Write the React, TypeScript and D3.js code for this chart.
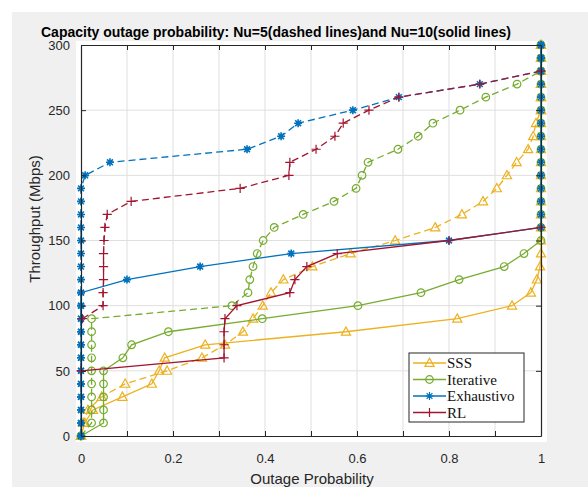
import React, { useRef, useEffect } from 'react';
import * as d3 from 'd3';

// throughput levels (Mbps) at which each curve has a marker
const levels = [0, 10, 20, 30, 40, 50, 60, 70, 80, 90, 100, 110, 120, 130, 140, 150, 160, 170, 180, 190, 200, 210, 220, 230, 240, 250, 260, 270, 280, 290, 300];

// outage probability for each level
const sssDashed = [0, 0.005, 0.015, 0.045, 0.096, 0.187, 0.263, 0.313, 0.352, 0.374, 0.395, 0.413, 0.44, 0.503, 0.586, 0.683, 0.77, 0.828, 0.874, 0.904, 0.926, 0.947, 0.972, 0.983, 0.989, 1, 1, 1, 1, 1, 1];
const sssSolid = [0, 0.008, 0.026, 0.09, 0.154, 0.17, 0.182, 0.27, 0.576, 0.818, 0.937, 0.978, 0.991, 0.998, 1, 1, 1, 1, 1, 1, 1, 1, 1, 1, 1, 1, 1, 1, 1, 1, 1];
const iterDashed = [0, 0.023, 0.023, 0.023, 0.023, 0.023, 0.023, 0.023, 0.023, 0.023, 0.328, 0.363, 0.367, 0.374, 0.383, 0.396, 0.42, 0.483, 0.55, 0.598, 0.611, 0.624, 0.689, 0.733, 0.765, 0.824, 0.88, 0.948, 1, 1, 1];
const iterSolid = [0, 0.049, 0.049, 0.049, 0.049, 0.049, 0.091, 0.11, 0.19, 0.394, 0.602, 0.739, 0.822, 0.92, 0.963, 1, 1, 1, 1, 1, 1, 1, 1, 1, 1, 1, 1, 1, 1, 1, 1];
const exhDashed = [0, 0, 0, 0, 0, 0, 0, 0, 0, 0, 0, 0, 0, 0, 0, 0, 0, 0, 0, 0, 0.009, 0.063, 0.361, 0.435, 0.472, 0.591, 0.691, 0.867, 1, 1, 1];
const exhSolid = [0, 0, 0, 0, 0, 0, 0, 0, 0, 0, 0, 0, 0.1, 0.259, 0.457, 0.8, 1, 1, 1, 1, 1, 1, 1, 1, 1, 1, 1, 1, 1, 1, 1];

// RL curves only start where they leave the x = 0 column
const rlDashedLevels = [90, 100, 110, 120, 130, 140, 150, 160, 170, 180, 190, 200, 210, 220, 230, 240, 250, 260, 270, 280];
const rlDashed = [0.003, 0.048, 0.048, 0.049, 0.049, 0.049, 0.05, 0.052, 0.057, 0.109, 0.346, 0.452, 0.454, 0.511, 0.552, 0.57, 0.626, 0.691, 0.867, 1];
const rlSolidLevels = [50, 60, 70, 80, 90, 100, 110, 120, 130, 140, 150, 160];
const rlSolid = [0, 0.311, 0.311, 0.311, 0.313, 0.339, 0.454, 0.465, 0.491, 0.557, 0.8, 1];

const xTicks = [0, 0.1, 0.2, 0.3, 0.4, 0.5, 0.6, 0.7, 0.8, 0.9, 1];
const xLabels = ['0', '', '0.2', '', '0.4', '', '0.6', '', '0.8', '', '1'];
const yTicks = [0, 50, 100, 150, 200, 250, 300];

const legendNames = ['SSS', 'Iterative', 'Exhaustivo', 'RL'];

const COLORS = { sss: '#EDB120', iter: '#77AC30', exh: '#0072BD', rl: '#A2142F' };

const MARKERS: Record<string, string> = {
  tri: 'M0,-4.8L4.6,3.4L-4.6,3.4Z',
  circle: 'M3.8,0A3.8,3.8,0,1,1,-3.8,0A3.8,3.8,0,1,1,3.8,0Z',
  plus: 'M-4.6,0H4.6M0,-4.6V4.6',
  star: 'M-4,0H4M0,-4V4M-2.9,-2.9L2.9,2.9M-2.9,2.9L2.9,-2.9',
};

function App() {
  const svgRef = useRef<SVGSVGElement>(null);

  useEffect(() => {
    const width = 588;
    const height = 487;

    d3.select(svgRef.current).selectAll('*').remove();
    const svg = d3.select(svgRef.current).attr('width', width).attr('height', height);

    // figure background and white axes panel
    svg.append('rect').attr('x', 12).attr('y', 12).attr('width', width - 12).attr('height', height - 12).attr('fill', '#f0f0f0');
    svg.append('rect').attr('x', 76).attr('y', 41).attr('width', 471).attr('height', 401).attr('fill', '#ffffff');

    const x = d3.scaleLinear().domain([0, 1]).range([81, 541]);
    const y = d3.scaleLinear().domain([0, 300]).range([436, 45]);

    // grid
    const grid = svg.append('g').attr('stroke', '#dfdfdf').attr('stroke-width', 1);
    xTicks.slice(1, -1).forEach(t => {
      grid.append('line').attr('x1', x(t)).attr('x2', x(t)).attr('y1', y(0)).attr('y2', y(300));
    });
    yTicks.slice(1, -1).forEach(t => {
      grid.append('line').attr('x1', x(0)).attr('x2', x(1)).attr('y1', y(t)).attr('y2', y(t));
    });

    const line = d3.line<[number, number]>().x(d => x(d[0])).y(d => y(d[1]));

    const drawSeries = (probs: number[], lv: number[], color: string, marker: string, dashed: boolean) => {
      const pts: [number, number][] = probs.map((p, i) => [p, lv[i]]);
      svg.append('path')
        .datum(pts)
        .attr('d', line)
        .attr('fill', 'none')
        .attr('stroke', color)
        .attr('stroke-width', 1.3)
        .attr('stroke-dasharray', dashed ? '7,4' : null);
      svg.append('g').selectAll('path')
        .data(pts)
        .enter()
        .append('path')
        .attr('d', MARKERS[marker])
        .attr('transform', d => `translate(${x(d[0])},${y(d[1])})`)
        .attr('fill', 'none')
        .attr('stroke', color)
        .attr('stroke-width', marker === 'star' ? 1.6 : 1.2);
    };

    drawSeries(sssDashed, levels, COLORS.sss, 'tri', true);
    drawSeries(sssSolid, levels, COLORS.sss, 'tri', false);
    drawSeries(iterDashed, levels, COLORS.iter, 'circle', true);
    drawSeries(iterSolid, levels, COLORS.iter, 'circle', false);
    drawSeries(exhDashed, levels, COLORS.exh, 'star', true);
    drawSeries(exhSolid, levels, COLORS.exh, 'star', false);
    drawSeries(rlDashed, rlDashedLevels, COLORS.rl, 'plus', true);
    drawSeries(rlSolid, rlSolidLevels, COLORS.rl, 'plus', false);

    // axes (box with inward ticks)
    const styleAxis = (g: d3.Selection<SVGGElement, unknown, null, undefined>) => {
      g.attr('font-family', '"Liberation Sans", Arial, sans-serif').attr('font-size', 13);
      g.selectAll('path.domain').attr('stroke', '#262626').attr('stroke-width', 1.2);
      g.selectAll('.tick line').attr('stroke', '#262626');
      g.selectAll('.tick text').attr('fill', '#262626');
    };

    svg.append('g')
      .attr('transform', `translate(0,${y(0)})`)
      .call(d3.axisBottom(x).tickValues(xTicks).tickSize(-5).tickSizeOuter(0).tickPadding(17.5)
        .tickFormat((_d, i) => xLabels[i]))
      .call(styleAxis);
    svg.append('g')
      .attr('transform', `translate(0,${y(300)})`)
      .call(d3.axisTop(x).tickValues(xTicks).tickSize(-5).tickSizeOuter(0).tickFormat(() => ''))
      .call(styleAxis);
    svg.append('g')
      .attr('transform', `translate(${x(0)},0)`)
      .call(d3.axisLeft(y).tickValues(yTicks).tickSize(-5).tickSizeOuter(0).tickPadding(11))
      .call(styleAxis);
    svg.append('g')
      .attr('transform', `translate(${x(1)},0)`)
      .call(d3.axisRight(y).tickValues(yTicks).tickSize(-5).tickSizeOuter(0).tickFormat(() => ''))
      .call(styleAxis);

    // title and axis labels
    svg.append('text')
      .attr('x', 41)
      .attr('y', 37)
      .attr('font-family', '"Liberation Sans", Arial, sans-serif')
      .attr('font-size', 14)
      .attr('font-weight', 'bold')
      .attr('fill', '#000')
      .text('Capacity outage probability: Nu=5(dashed lines)and Nu=10(solid lines)');

    svg.append('text')
      .attr('x', 312)
      .attr('y', 484)
      .attr('text-anchor', 'middle')
      .attr('font-family', '"Liberation Sans", Arial, sans-serif')
      .attr('font-size', 15)
      .attr('fill', '#262626')
      .text('Outage Probability');

    svg.append('text')
      .attr('transform', 'translate(40,219) rotate(-90)')
      .attr('text-anchor', 'middle')
      .attr('font-family', '"Liberation Sans", Arial, sans-serif')
      .attr('font-size', 15)
      .attr('fill', '#262626')
      .text('Throughput (Mbps)');

    // legend
    const legend = svg.append('g').attr('transform', 'translate(409,353)');
    legend.append('rect')
      .attr('width', 115)
      .attr('height', 69)
      .attr('fill', '#fff')
      .attr('stroke', '#262626')
      .attr('stroke-width', 1);
    const legendItems = [
      { color: COLORS.sss, marker: 'tri' },
      { color: COLORS.iter, marker: 'circle' },
      { color: COLORS.exh, marker: 'star' },
      { color: COLORS.rl, marker: 'plus' },
    ];
    legendItems.forEach((item, i) => {
      const cy = 10 + i * 16.5;
      legend.append('line')
        .attr('x1', 4).attr('x2', 37).attr('y1', cy).attr('y2', cy)
        .attr('stroke', item.color).attr('stroke-width', 1.3);
      legend.append('path')
        .attr('d', MARKERS[item.marker])
        .attr('transform', `translate(20.5,${cy})`)
        .attr('fill', 'none')
        .attr('stroke', item.color)
        .attr('stroke-width', 1.2);
      legend.append('text')
        .attr('x', 38)
        .attr('y', cy)
        .attr('dy', '0.35em')
        .attr('font-family', '"Liberation Serif", "Times New Roman", serif')
        .attr('font-size', 15)
        .attr('fill', '#111')
        .text(legendNames[i]);
    });
  }, []);

  return (
    <div>
      <svg ref={svgRef} style={{ position: 'absolute', left: 0, top: 0 }}></svg>
    </div>
  );
}

export default App;
